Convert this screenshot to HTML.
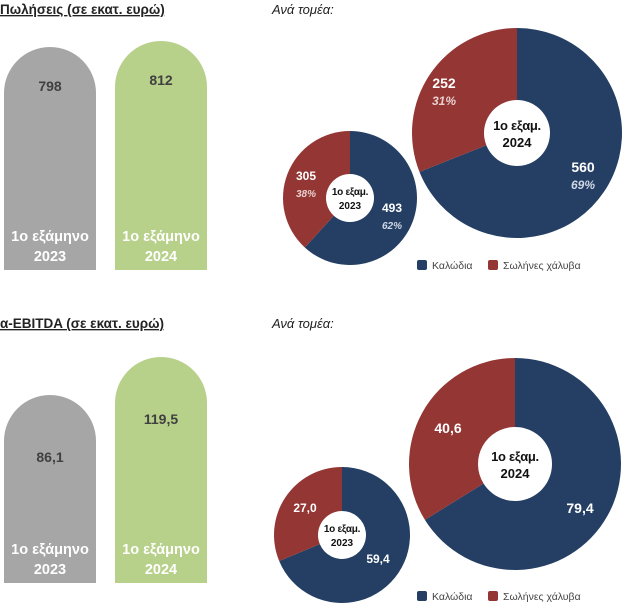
<!DOCTYPE html>
<html><head><meta charset="utf-8"><style>
html,body{margin:0;padding:0;background:#fff;}
svg{display:block;font-family:"Liberation Sans","DejaVu Sans",sans-serif;}
</style></head><body>
<svg id="c" width="624" height="603" viewBox="0 0 624 603" xmlns="http://www.w3.org/2000/svg">
<text x="0" y="14" font-size="13.5" font-weight="bold" fill="#222" text-decoration="underline">Πωλήσεις (σε εκατ. ευρώ)</text>
<text x="272" y="14" font-size="13" font-style="italic" fill="#222">Ανά τομέα:</text>
<text x="0" y="328" font-size="13.5" font-weight="bold" fill="#222" text-decoration="underline">α-EBITDA (σε εκατ. ευρώ)</text>
<text x="272" y="328" font-size="13" font-style="italic" fill="#222">Ανά τομέα:</text>
<g id="g"></g>
</svg>
<script>
const periods = ["2023","2024"];
const salesTotals = [798, 812];
const salesTotalLabels = ["798","812"];
const ebitdaTotals = [86.1, 119.5];
const ebitdaTotalLabels = ["86,1","119,5"];
const salesCables = [493, 560];
const salesPipes = [305, 252];
const salesCablesLabels = ["493","560"];
const salesPipesLabels = ["305","252"];
const salesCablesPct = ["62%","69%"];
const salesPipesPct = ["38%","31%"];
const ebitdaCables = [59.4, 79.4];
const ebitdaPipes = [27.0, 40.6];
const ebitdaCablesLabels = ["59,4","79,4"];
const ebitdaPipesLabels = ["27,0","40,6"];
const legendLabels = ["Καλώδια","Σωλήνες χάλυβα"];

const NS="http://www.w3.org/2000/svg";
const g=document.getElementById('g');
const BLUE="#243f63", RED="#943634";
function mk(tag,attrs,parent){const e=document.createElementNS(NS,tag);for(const k in attrs)e.setAttribute(k,attrs[k]);(parent||g).appendChild(e);return e;}
function txt(x,y,s,size,opts){const t=mk('text',Object.assign({x:x,y:y,'font-size':size,'text-anchor':'middle'},opts||{}));t.textContent=s;return t;}

function barPanel(vals,labels,bottom,v0,v1,h0,h1,valOffset,name){
  const yScale=v=>h0+(v-v0)*(h1-h0)/(v1-v0);
  const xs=[4,115], w=92, r=46, cols=["#a6a6a6","#b7d08a"];
  vals.forEach((v,i)=>{
    const h=yScale(v), top=bottom-h, x=xs[i];
    const p=mk('path',{d:`M${x},${bottom} L${x},${top+r} A${r},${r} 0 0 1 ${x+w},${top+r} L${x+w},${bottom} Z`,fill:cols[i]});
    
    
    const t=txt(x+w/2,top+valOffset,labels[i],14,{'font-weight':'bold',fill:'#404040'});
    
    
    const l1=txt(x+w/2,bottom-29,'1ο εξάμηνο',14.5,{'font-weight':'bold',fill:'#fff'});
    
    
    const l2=txt(x+w/2,bottom-9,periods[i],14.5,{'font-weight':'bold',fill:'#fff'});
    
    
  });
}
barPanel(salesTotals,salesTotalLabels,270,798,812,223,229,44,'sales');
barPanel(ebitdaTotals,ebitdaTotalLabels,583,86.1,119.5,188,226,67,'ebitda');

function arc(cx,cy,R,r,a0,a1){
  const pt=(rad,a)=>[cx+rad*Math.sin(a),cy-rad*Math.cos(a)];
  const large=(a1-a0)>Math.PI?1:0;
  const [x1,y1]=pt(R,a0),[x2,y2]=pt(R,a1),[x3,y3]=pt(r,a1),[x4,y4]=pt(r,a0);
  return `M${x1},${y1} A${R},${R} 0 ${large} 1 ${x2},${y2} L${x3},${y3} A${r},${r} 0 ${large} 0 ${x4},${y4} Z`;
}
function donut(cx,cy,R,r,cab,pip,cabL,pipL,cabP,pipP,year,fs,cfs,name,labPos){
  const tot=cab+pip, a=2*Math.PI*cab/tot;
  const b=mk('path',{d:arc(cx,cy,R,r,0,a),fill:BLUE});
  
  
  const rd=mk('path',{d:arc(cx,cy,R,r,a,2*Math.PI),fill:RED});
  
  
  const c1=txt(cx,cy-3,'1ο εξαμ.',cfs,{'font-weight':'bold',fill:'#111','letter-spacing':'-0.3'});
  
  
  const c2=txt(cx,cy+cfs+1,year,cfs,{'font-weight':'bold',fill:'#111'});
  
  
  const [px,py,bx,by]=labPos;
  const t1=txt(px,py,pipL,fs,{'font-weight':'bold',fill:'#fff'});
  
  
  const t2=txt(bx,by,cabL,fs,{'font-weight':'bold',fill:'#fff'});
  
  
  if(pipP){
    const p1=txt(px,py+17,pipP,fs-2,{'font-style':'italic','font-weight':'bold',fill:'#e8d0d0'});
    
    
    const p2=txt(bx,by+17,cabP,fs-2,{'font-style':'italic','font-weight':'bold',fill:'#d0d8e6'});
    
    
  }
}
donut(350,198,67,24,salesCables[0],salesPipes[0],salesCablesLabels[0],salesPipesLabels[0],salesCablesPct[0],salesPipesPct[0],periods[0],12,10,'sales-2023',[306,180,392,212]);
donut(517,133,105,33,salesCables[1],salesPipes[1],salesCablesLabels[1],salesPipesLabels[1],salesCablesPct[1],salesPipesPct[1],periods[1],14,13,'sales-2024',[444,88,583,172]);
donut(342,535,68,24,ebitdaCables[0],ebitdaPipes[0],ebitdaCablesLabels[0],ebitdaPipesLabels[0],null,null,periods[0],12,10,'ebitda-2023',[305,512,378,563]);
donut(515,464,106,37,ebitdaCables[1],ebitdaPipes[1],ebitdaCablesLabels[1],ebitdaPipesLabels[1],null,null,periods[1],14,13,'ebitda-2024',[448,433,580,513]);

function legend(y,name){
  const cols=[BLUE,RED], xs=[417,488];
  legendLabels.forEach((s,i)=>{
    const sq=mk('rect',{x:xs[i],y:y-9,width:10,height:10,rx:2,fill:cols[i]});
    
    
    const t=mk('text',{x:xs[i]+15,y:y,'font-size':10.5,fill:'#444'});
    t.textContent=s;
    
    
  });
}
legend(269,'sales');
legend(600,'ebitda');
</script>
</body></html>
